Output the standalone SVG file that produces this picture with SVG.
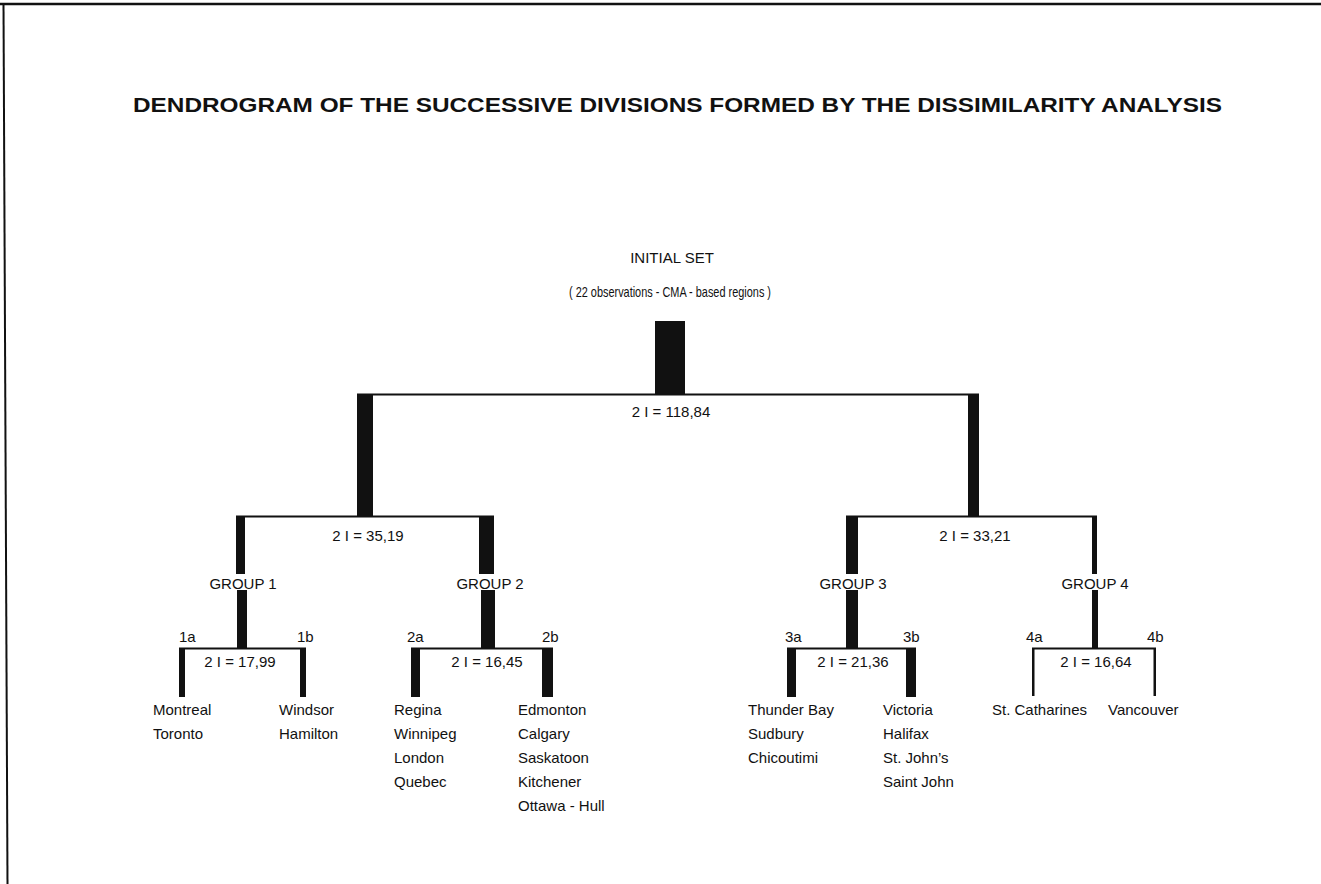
<svg xmlns="http://www.w3.org/2000/svg" width="1321" height="884" viewBox="0 0 1321 884">
<style>
text{font-family:"Liberation Sans","DejaVu Sans",sans-serif;fill:#111;font-size:15px}
.t{font-weight:bold;font-size:20px}
.m{text-anchor:middle}
.bar{fill:#111}
.ln{stroke:#111;stroke-width:2;fill:none}
</style>
<rect width="1321" height="884" fill="#fff"/>
<g id="frame">
<line x1="0" y1="4" x2="1321" y2="4" stroke="#111" stroke-width="2.5"/>
<line x1="3.5" y1="4" x2="7.5" y2="884" stroke="#111" stroke-width="2"/>
</g>
<g id="title"><text class="t" x="133" y="112" textLength="1089" lengthAdjust="spacingAndGlyphs">DENDROGRAM OF THE SUCCESSIVE DIVISIONS FORMED BY THE DISSIMILARITY ANALYSIS</text></g>

<g id="connectors">
<rect class="bar" x="655" y="321" width="30" height="74"/>
<line class="ln" x1="357" y1="394.5" x2="979" y2="394.5"/>
<rect class="bar" x="357" y="394" width="16" height="123"/>
<rect class="bar" x="968" y="394" width="11" height="123"/>
<line class="ln" x1="236" y1="516.5" x2="494" y2="516.5"/>
<line class="ln" x1="846" y1="516.5" x2="1097" y2="516.5"/>
<rect class="bar" x="236" y="516" width="9" height="58"/>
<rect class="bar" x="237" y="590" width="10" height="59"/>
<rect class="bar" x="479" y="516" width="15" height="58"/>
<rect class="bar" x="481" y="590" width="14" height="59"/>
<rect class="bar" x="846" y="516" width="12" height="58"/>
<rect class="bar" x="846" y="590" width="12" height="59"/>
<rect class="bar" x="1092" y="516" width="5" height="58"/>
<rect class="bar" x="1092" y="590" width="6" height="59"/>
<line class="ln" x1="179" y1="648.5" x2="306" y2="648.5"/>
<rect class="bar" x="179" y="648" width="6" height="49"/>
<rect class="bar" x="300" y="648" width="6" height="49"/>
<line class="ln" x1="411" y1="648.5" x2="553" y2="648.5"/>
<rect class="bar" x="411" y="648" width="9" height="49"/>
<rect class="bar" x="542" y="648" width="11" height="49"/>
<line class="ln" x1="787" y1="648.5" x2="916" y2="648.5"/>
<rect class="bar" x="787" y="648" width="9" height="49"/>
<rect class="bar" x="906" y="648" width="10" height="49"/>
<line class="ln" x1="1032" y1="648.5" x2="1156" y2="648.5"/>
<rect class="bar" x="1032" y="648" width="2.5" height="48"/>
<rect class="bar" x="1153.5" y="648" width="2.5" height="48"/>
</g>

<g id="root">
<text class="m" x="672" y="263">INITIAL SET</text>
<text class="m" x="670" y="297" textLength="202" lengthAdjust="spacingAndGlyphs">( 22 observations - CMA - based regions )</text>
<text class="m" x="671" y="417">2 I = 118,84</text>
</g>
<g id="split-left"><text class="m" x="368" y="541">2 I = 35,19</text></g>
<g id="split-right"><text class="m" x="975" y="541">2 I = 33,21</text></g>

<g id="group1">
<text class="m" x="243" y="589">GROUP  1</text>
<text class="m" x="240" y="667">2 I = 17,99</text>
<text x="179" y="642">1a</text>
<text x="297" y="642">1b</text>
</g>
<g id="group2">
<text class="m" x="490" y="589">GROUP  2</text>
<text class="m" x="487" y="667">2 I = 16,45</text>
<text x="407" y="642">2a</text>
<text x="542" y="642">2b</text>
</g>
<g id="group3">
<text class="m" x="853" y="589">GROUP  3</text>
<text class="m" x="853" y="667">2 I = 21,36</text>
<text x="785" y="642">3a</text>
<text x="903" y="642">3b</text>
</g>
<g id="group4">
<text class="m" x="1095" y="589">GROUP  4</text>
<text class="m" x="1096" y="667">2 I = 16,64</text>
<text x="1026" y="642">4a</text>
<text x="1147" y="642">4b</text>
</g>

<g id="leaf-1a"><text x="153" y="715">Montreal</text><text x="153" y="739">Toronto</text></g>
<g id="leaf-1b"><text x="279" y="715">Windsor</text><text x="279" y="739">Hamilton</text></g>
<g id="leaf-2a"><text x="394" y="715">Regina</text><text x="394" y="739">Winnipeg</text><text x="394" y="763">London</text><text x="394" y="787">Quebec</text></g>
<g id="leaf-2b"><text x="518" y="715">Edmonton</text><text x="518" y="739">Calgary</text><text x="518" y="763">Saskatoon</text><text x="518" y="787">Kitchener</text><text x="518" y="811">Ottawa  -  Hull</text></g>
<g id="leaf-3a"><text x="748" y="715">Thunder  Bay</text><text x="748" y="739">Sudbury</text><text x="748" y="763">Chicoutimi</text></g>
<g id="leaf-3b"><text x="883" y="715">Victoria</text><text x="883" y="739">Halifax</text><text x="883" y="763">St.  John’s</text><text x="883" y="787">Saint  John</text></g>
<g id="leaf-4a"><text x="992" y="715">St.  Catharines</text></g>
<g id="leaf-4b"><text x="1108" y="715">Vancouver</text></g>
</svg>
